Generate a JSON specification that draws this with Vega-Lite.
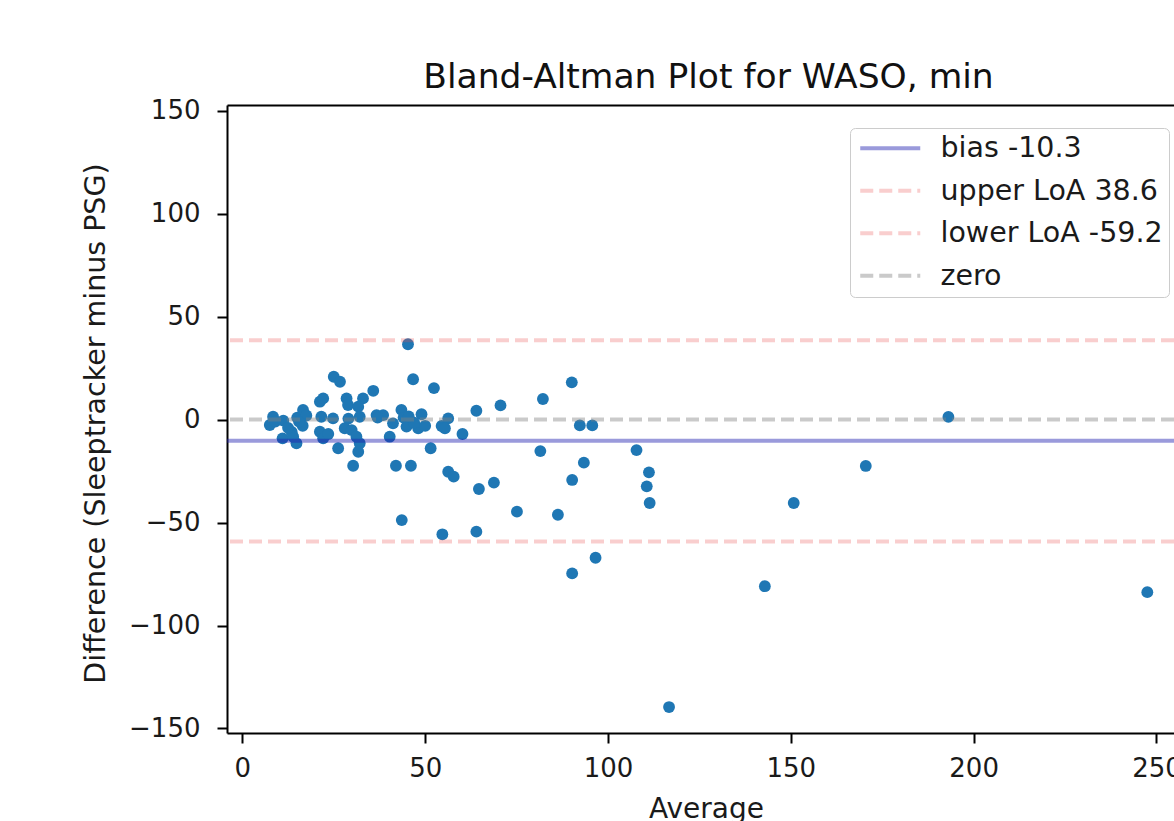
{
  "$schema": "https://vega.github.io/schema/vega-lite/v6.json",
  "width": 947,
  "height": 628,
  "autosize": "none",
  "padding": {"left": 227, "top": 105, "right": 0, "bottom": 88},
  "background": "white",
  "title": {
    "text": "Bland-Altman Plot for WASO, min",
    "font": "DejaVu Sans",
    "fontSize": 34.5,
    "fontWeight": "normal",
    "color": "#111111",
    "frame": "group",
    "anchor": "middle",
    "dx": 8,
    "offset": 2
  },
  "datasets": {
    "points": [
      {"avg": 7.5, "diff": -2.6}, {"avg": 8.4, "diff": 1.4}, {"avg": 9.0, "diff": -1.0}, {"avg": 11.2, "diff": -0.5},
      {"avg": 11.0, "diff": -9.1}, {"avg": 13.5, "diff": -6.0}, {"avg": 13.9, "diff": -8.3}, {"avg": 14.8, "diff": -11.5},
      {"avg": 15.0, "diff": 1.0}, {"avg": 16.6, "diff": 4.7}, {"avg": 17.5, "diff": 2.0}, {"avg": 16.5, "diff": -3.0},
      {"avg": 15.5, "diff": -1.0}, {"avg": 12.5, "diff": -4.0},
      {"avg": 21.2, "diff": 8.7}, {"avg": 22.1, "diff": 10.3}, {"avg": 21.6, "diff": 1.4}, {"avg": 24.8, "diff": 0.6},
      {"avg": 21.2, "diff": -5.9}, {"avg": 22.1, "diff": -9.1}, {"avg": 25.0, "diff": 20.8}, {"avg": 26.7, "diff": 18.4},
      {"avg": 26.2, "diff": -13.9}, {"avg": 28.0, "diff": -4.2}, {"avg": 29.9, "diff": -5.1}, {"avg": 28.5, "diff": 10.3},
      {"avg": 28.9, "diff": 7.1}, {"avg": 31.2, "diff": -8.3}, {"avg": 32.1, "diff": -11.5}, {"avg": 31.7, "diff": -15.6},
      {"avg": 30.3, "diff": -22.4}, {"avg": 33.0, "diff": 10.3}, {"avg": 31.7, "diff": 6.3}, {"avg": 32.1, "diff": 1.4},
      {"avg": 35.8, "diff": 14.0}, {"avg": 36.7, "diff": 2.2}, {"avg": 38.5, "diff": 2.2}, {"avg": 37.0, "diff": 1.0},
      {"avg": 23.5, "diff": -7.0}, {"avg": 29.0, "diff": 0.5},
      {"avg": 40.3, "diff": -8.3}, {"avg": 41.2, "diff": -1.8}, {"avg": 42.0, "diff": -22.4}, {"avg": 43.5, "diff": 4.7},
      {"avg": 44.1, "diff": 1.0}, {"avg": 44.9, "diff": -3.4}, {"avg": 45.3, "diff": 36.6}, {"avg": 46.7, "diff": 19.6},
      {"avg": 46.1, "diff": -22.4}, {"avg": 43.6, "diff": -48.8}, {"avg": 48.1, "diff": -4.2}, {"avg": 49.0, "diff": 2.6},
      {"avg": 47.0, "diff": -1.5}, {"avg": 51.5, "diff": -13.9}, {"avg": 52.4, "diff": 15.3}, {"avg": 54.5, "diff": -3.1},
      {"avg": 56.3, "diff": 0.6}, {"avg": 55.4, "diff": -4.2}, {"avg": 54.7, "diff": -55.7}, {"avg": 56.3, "diff": -25.3},
      {"avg": 57.8, "diff": -27.7}, {"avg": 60.2, "diff": -7.0}, {"avg": 45.5, "diff": 1.5}, {"avg": 50.0, "diff": -3.0},
      {"avg": 64.0, "diff": 4.3}, {"avg": 70.6, "diff": 6.9}, {"avg": 64.7, "diff": -33.7}, {"avg": 68.8, "diff": -30.6},
      {"avg": 64.0, "diff": -54.4}, {"avg": 75.1, "diff": -44.7}, {"avg": 82.2, "diff": 10.0}, {"avg": 81.5, "diff": -15.3},
      {"avg": 86.3, "diff": -46.2}, {"avg": 90.1, "diff": 18.1}, {"avg": 92.3, "diff": -2.8}, {"avg": 95.7, "diff": -2.8},
      {"avg": 93.4, "diff": -20.9}, {"avg": 90.2, "diff": -29.3}, {"avg": 96.6, "diff": -67.1}, {"avg": 90.2, "diff": -74.7},
      {"avg": 107.8, "diff": -14.8}, {"avg": 111.2, "diff": -25.6}, {"avg": 110.6, "diff": -32.4}, {"avg": 111.4, "diff": -40.5},
      {"avg": 116.7, "diff": -139.6}, {"avg": 142.9, "diff": -80.9}, {"avg": 150.8, "diff": -40.5}, {"avg": 170.5, "diff": -22.5},
      {"avg": 193.1, "diff": 1.3}, {"avg": 247.5, "diff": -83.8}
    ],
    "lines": [
      {"label": "bias -10.3", "value": -10.3},
      {"label": "upper LoA 38.6", "value": 38.6},
      {"label": "lower LoA -59.2", "value": -59.2},
      {"label": "zero", "value": 0}
    ]
  },
  "layer": [
    {
      "data": {"name": "points"},
      "mark": {"type": "circle", "size": 140, "color": "#1f77b4", "opacity": 1},
      "encoding": {
        "x": {
          "field": "avg", "type": "quantitative",
          "scale": {"domain": [-4.2, 254.8], "nice": false, "zero": false},
          "axis": {
            "title": "Average",
            "values": [0, 50, 100, 150, 200, 250],
            "titleX": 479, "titleY": 84, "titleBaseline": "alphabetic",
            "labelPadding": 12
          }
        },
        "y": {
          "field": "diff", "type": "quantitative",
          "scale": {"domain": [-152.2, 152.8], "nice": false, "zero": false},
          "axis": {
            "title": "Difference (Sleeptracker minus PSG)",
            "values": [-150, -100, -50, 0, 50, 100, 150],
            "labelExpr": "replace(datum.label, '-', '−')",
            "labelPadding": 17,
            "titleX": -132, "titleY": 318, "titleBaseline": "middle", "titleAngle": -90,
            "titleFontSize": 28.5
          }
        }
      }
    },
    {
      "data": {"name": "lines"},
      "mark": {"type": "rule", "strokeWidth": 4},
      "encoding": {
        "y": {
          "field": "value", "type": "quantitative",
          "axis": {
            "orient": "right", "title": null, "labels": false, "ticks": false, "domain": false,
            "grid": true, "values": [152.8], "gridColor": "#000000", "gridWidth": 2, "gridOpacity": 1
          }
        },
        "color": {
          "field": "label", "type": "nominal",
          "scale": {
            "domain": ["bias -10.3", "upper LoA 38.6", "lower LoA -59.2", "zero"],
            "range": ["rgba(32,32,176,0.45)", "rgba(235,80,80,0.28)", "rgba(235,80,80,0.28)", "rgba(128,128,128,0.42)"]
          },
          "legend": {
            "title": null,
            "orient": "none",
            "legendX": 623,
            "legendY": 23
          }
        },
        "strokeDash": {
          "field": "label", "type": "nominal",
          "scale": {
            "domain": ["bias -10.3", "upper LoA 38.6", "lower LoA -59.2", "zero"],
            "range": [[1, 0], [13, 6], [13, 6], [13, 6]]
          },
          "legend": {
            "title": null,
            "orient": "none",
            "legendX": 623,
            "legendY": 23
          }
        }
      }
    }
  ],
  "resolve": {"axis": {"y": "independent"}},
  "config": {
    "view": {"stroke": null},
    "font": "DejaVu Sans",
    "axis": {
      "grid": false,
      "domainColor": "#000000",
      "domainWidth": 2,
      "tickColor": "#000000",
      "tickWidth": 2,
      "tickSize": 10,
      "labelFont": "DejaVu Sans",
      "labelFontSize": 26,
      "labelColor": "#1a1a1a",
      "titleFont": "DejaVu Sans",
      "titleFontSize": 28,
      "titleFontWeight": "normal",
      "titleColor": "#1a1a1a"
    },
    "legend": {
      "symbolType": "M-1,0H5",
      "symbolSize": 400,
      "symbolStrokeWidth": 4,
      "labelFont": "DejaVu Sans",
      "labelFontSize": 28.5,
      "labelColor": "#1a1a1a",
      "labelOffset": 56,
      "labelLimit": 0,
      "rowPadding": 13.5,
      "padding": 6,
      "strokeColor": "#cccccc",
      "fillColor": "rgba(255,255,255,0.85)",
      "cornerRadius": 5
    }
  }
}
